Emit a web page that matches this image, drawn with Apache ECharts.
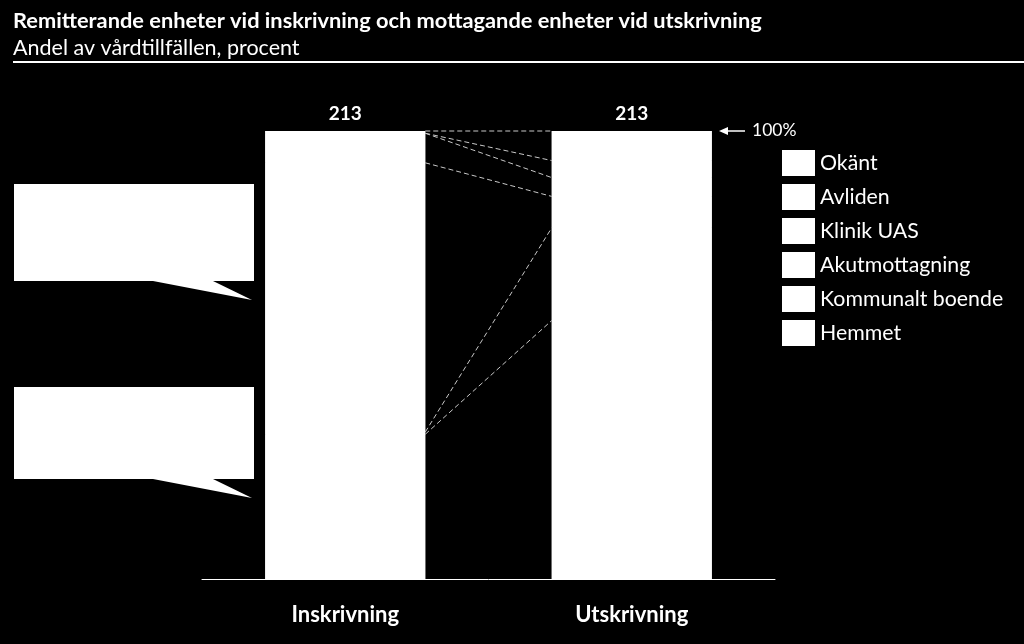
<!DOCTYPE html>
<html>
<head>
<meta charset="utf-8">
<script src="https://cdn.jsdelivr.net/npm/echarts@6/dist/echarts.min.js"></script>
<style>
  html, body { margin: 0; padding: 0; background: #000; }
  #main { width: 1024px; height: 644px; }
</style>
</head>
<body>
<div id="main"></div>
<script>
// kategorier och andelar (procent), nedifrån och upp i stapeln
const categories = ['Inskrivning', 'Utskrivning'];
const totals = [213, 213];
const seriesNames = ['Hemmet', 'Kommunalt boende', 'Akutmottagning', 'Klinik UAS', 'Avliden', 'Okänt'];
const hemmet = [32.3, 57.7];
const kommunaltBoende = [0.5, 20.7];
const akutmottagning = [60.1, 7.0];
const klinikUAS = [6.6, 4.2];
const avliden = [0, 3.8];
const okant = [0.5, 6.6];
const legendOrder = ['Okänt', 'Avliden', 'Klinik UAS', 'Akutmottagning', 'Kommunalt boende', 'Hemmet'];

const FONT = 'Lato';
const valueLists = [hemmet, kommunaltBoende, akutmottagning, klinikUAS, avliden, okant];

// kumulativa gränser mellan segmenten (för de streckade linjerna)
var boundaries = [];
var cumL = 0, cumR = 0;
valueLists.forEach(function (v) {
  cumL += v[0];
  cumR += v[1];
  boundaries.push([0, Math.min(cumL, 100), Math.min(cumR, 100)]);
});

var series = valueLists.map(function (vals, i) {
  var s = {
    name: seriesNames[i],
    type: 'bar',
    stack: 'total',
    barWidth: 160,
    data: vals,
    itemStyle: { color: '#ffffff' },
    emphasis: { disabled: true }
  };
  if (i === 0) {
    // vit bakgrund bakom stapeln så att inga skarvar syns
    s.showBackground = true;
    s.backgroundStyle = { color: '#ffffff' };
  }
  if (i === valueLists.length - 1) {
    s.label = {
      show: true,
      position: 'top',
      distance: 8,
      color: '#fff',
      fontFamily: FONT,
      fontWeight: 'bold',
      fontSize: 19,
      formatter: function (p) { return totals[p.dataIndex]; }
    };
  }
  return s;
});

series.push({
  name: 'linjer',
  type: 'custom',
  data: boundaries,
  encode: { x: 0, y: [1, 2] },
  z: 5,
  renderItem: function (params, api) {
    var a = api.coord([0, api.value(1)]);
    var b = api.coord([1, api.value(2)]);
    return {
      type: 'line',
      shape: { x1: a[0] + 80, y1: a[1], x2: b[0] - 80, y2: b[1] },
      style: { stroke: '#c8c8c8', lineWidth: 1, lineDash: [5, 3] }
    };
  }
});

function callout(top, bottom) {
  return {
    type: 'polygon',
    shape: { points: [[14, top], [254, top], [254, bottom], [213, bottom], [252, bottom + 19], [153, bottom], [14, bottom]] },
    style: { fill: '#fff' }
  };
}

var mychart = echarts.init(document.getElementById('main'));
var option = {
  backgroundColor: '#000',
  animation: false,
  title: {
    text: 'Remitterande enheter vid inskrivning och mottagande enheter vid utskrivning',
    subtext: 'Andel av vårdtillfällen, procent',
    left: 8,
    top: 5,
    itemGap: 5,
    textStyle: { color: '#fff', fontFamily: FONT, fontWeight: 'bold', fontSize: 21.8 },
    subtextStyle: { color: '#fff', fontFamily: FONT, fontSize: 21.5 }
  },
  legend: {
    data: legendOrder,
    orient: 'vertical',
    left: 782,
    top: 150,
    padding: 0,
    itemWidth: 33,
    itemHeight: 26,
    itemGap: 8,
    icon: 'rect',
    selectedMode: false,
    textStyle: { color: '#fff', fontFamily: FONT, fontSize: 21.3, lineHeight: 26 }
  },
  grid: { left: 202, right: 249, top: 131, bottom: 65 },
  xAxis: {
    type: 'category',
    data: categories,
    axisLine: { lineStyle: { color: '#fff', width: 1 } },
    axisTick: { show: false },
    axisLabel: { color: '#fff', fontFamily: FONT, fontWeight: 'bold', fontSize: 22, margin: 25 }
  },
  yAxis: {
    type: 'value',
    min: 0,
    max: 100,
    show: false
  },
  series: series,
  graphic: [
    { type: 'line', shape: { x1: 13, y1: 62, x2: 1024, y2: 62 }, style: { stroke: '#fff', lineWidth: 2 } },
    callout(184, 281),
    callout(387, 479),
    { type: 'line', shape: { x1: 724, y1: 131, x2: 745, y2: 131 }, style: { stroke: '#fff', lineWidth: 1.5 } },
    { type: 'polygon', shape: { points: [[719, 131], [728, 127], [728, 135]] }, style: { fill: '#fff' } },
    { type: 'text', left: 752, top: 121, style: { text: '100%', fill: '#fff', font: '17.5px ' + FONT } }
  ]
};
mychart.setOption(option);
</script>
</body>
</html>
